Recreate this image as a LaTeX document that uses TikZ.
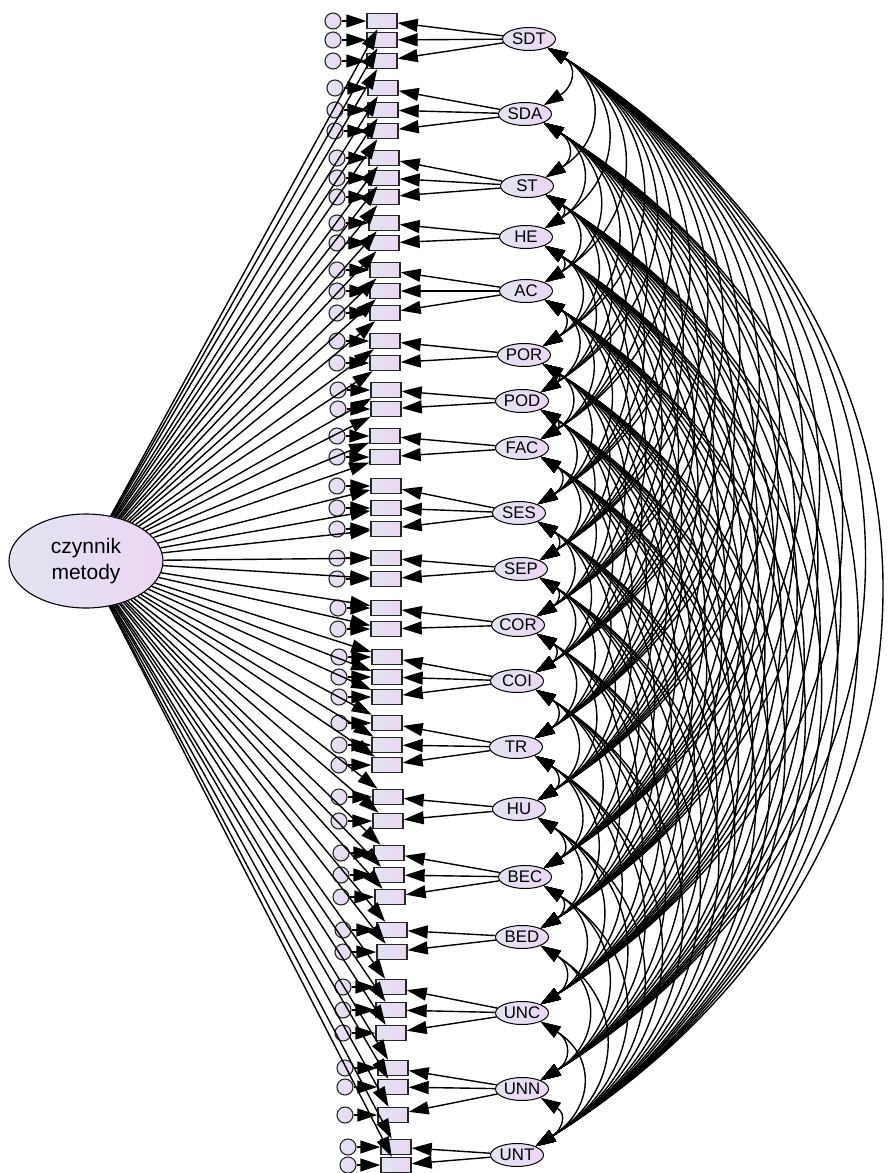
\documentclass[tikz,border=0pt]{standalone}
\usepackage{fontspec}
\setmainfont{Liberation Sans}
\usetikzlibrary{arrows.meta,shapes.geometric}
\definecolor{fillL}{RGB}{226,228,240}
\definecolor{fillR}{RGB}{236,214,244}
\begin{document}
\begin{tikzpicture}[x=0.5pt,y=-0.5pt,
  lat/.style={ellipse, draw=black, line width=0.5pt, left color=fillL, right color=fillR,
    minimum width=26.5pt, minimum height=11.5pt, inner sep=0pt, font=\fontsize{8.4}{9}\selectfont},
  meth/.style={ellipse, draw=black, line width=0.55pt, left color=fillL, right color=fillR,
    minimum width=77pt, minimum height=47pt, inner sep=0pt, align=center,
    font=\fontsize{10.5}{13}\selectfont},
  obs/.style={rectangle, draw=black!85, line width=0.7pt, left color=fillL, right color=fillR,
    minimum width=15pt, minimum height=7.5pt, inner sep=0pt},
  err/.style={circle, draw=black!85, line width=0.55pt, left color=fillL, right color=fillR,
    minimum size=8pt, inner sep=0pt},
  arr/.style={-{Triangle[length=10pt,width=6.5pt]}, line width=0.7pt},
  covl/.style={{Triangle[length=10pt,width=6.5pt]}-{Triangle[length=10pt,width=6.5pt]}, line width=0.7pt}]
\useasboundingbox (0,0) rectangle (889,1173);
\def\boxlist{1/1/382/333/21, 2/1/382/333/40, 3/1/382/333/61,
4/2/383/335/88, 5/2/383/335/110, 6/2/383/335/131,
7/3/384/337/158, 8/3/384/337/178, 9/3/384/337/197,
10/4/384/337/223, 11/4/384/337/243,
12/5/385/337/270, 13/5/385/337/291, 14/5/385/337/313,
15/6/385/337/341, 16/6/385/337/363,
17/7/386/338/390, 18/7/386/338/409,
19/8/385/337/436, 20/8/385/337/457,
21/9/386/337/486, 22/9/386/337/508, 23/9/386/337/529,
24/10/386/337/558, 25/10/386/337/579,
26/11/386/338/608, 27/11/386/338/629,
28/12/387/339/657, 29/12/387/339/677, 30/12/387/339/697,
31/13/387/339/723, 32/13/387/339/745, 33/13/387/339/765,
34/14/388/339/797, 35/14/388/339/821,
36/15/389/341/853, 37/15/389/341/875, 38/15/390/341/897,
39/16/392/343/930, 40/16/392/343/952,
41/17/391/343/987, 42/17/391/343/1010, 43/17/391/343/1033,
44/18/393/345/1068, 45/18/393/345/1087, 46/18/393/345/1115,
47/19/396/348/1147, 48/19/396/348/1165}
\def\fylist{{0,39,114,186,237,291,355,401,448,513,569,625,681,747,809,877,937,1013,1089,1155}}
% latent factors
\foreach \n/\lab/\x/\y in {1/SDT/529/39, 2/SDA/525/114, 3/ST/527/186, 4/HE/526/237,
  5/AC/526/291, 6/POR/524/355, 7/POD/522/401, 8/FAC/522/448, 9/SES/519/513,
  10/SEP/521/569, 11/COR/518/625, 12/COI/517/681, 13/TR/516/747, 14/HU/519/809,
  15/BEC/525/877, 16/BED/522/937, 17/UNC/522/1013, 18/UNN/522/1089, 19/UNT/517/1155}
  {\node[lat] (f\n) at (\x,\y) {\lab};}
% method factor
\node[meth] (M) at (86,561) {czynnik\\metody};
% indicators and errors
\foreach \k/\f/\bx/\ex/\by in \boxlist {
  \node[obs] (b\k) at (\bx,\by) {};
  \node[err] (e\k) at (\ex,\by) {};
}
% paths
\foreach \k/\f/\bx/\ex/\by in \boxlist {
  \draw[arr] (M) -- (b\k);
  \draw[arr] (e\k) -- (b\k);
  \draw[arr] (f\f) -- (b\k);
}
% covariances
\foreach \i in {1,...,18}{
  \pgfmathtruncatemacro\s{\i+1}
  \foreach \j in {\s,...,19}{
    \pgfmathsetmacro\cc{0.475*(\fylist[\j]-\fylist[\i])}
    \draw[covl] (f\i.-25) .. controls +(32:\cc) and +(-32:\cc) .. (f\j.25);
  }
}
\end{tikzpicture}
\end{document}
